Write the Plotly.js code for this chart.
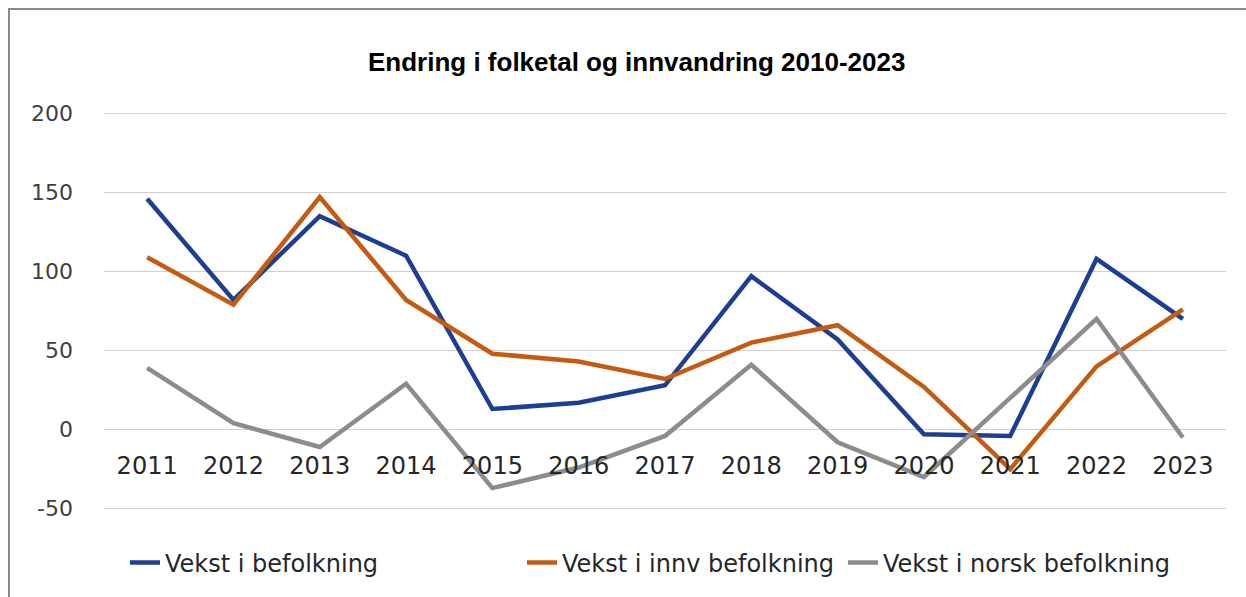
<!DOCTYPE html>
<html>
<head>
<meta charset="utf-8">
<script src="https://cdn.plot.ly/plotly-3.0.1.min.js"></script>
<style>
  html, body { margin: 0; padding: 0; background: #fff; }
  #wrap { position: relative; width: 1246px; height: 597px; }
  #chart { width: 1246px; height: 597px; }
  #frame { position: absolute; left: 8px; top: 8px; right: -2px; bottom: -2px;
           border-left: 2px solid #8a8a8a; border-top: 2px solid #8a8a8a; pointer-events: none; }
</style>
</head>
<body>
<div id="wrap">
  <div id="chart"></div>
  <div id="frame"></div>
</div>
<script>
const years = ['2011','2012','2013','2014','2015','2016','2017','2018','2019','2020','2021','2022','2023'];
const vekstBefolkning = [146, 82, 135, 110, 13, 17, 28, 97, 57, -3, -4, 108, 70];
const vekstInnv       = [109, 79, 147, 82, 48, 43, 32, 55, 66, 27, -25, 40, 76];
const vekstNorsk      = [39, 4, -11, 29, -37, -24, -4, 41, -8, -30, 20, 70, -5];
const seriesNames = ['Vekst i befolkning', 'Vekst i innv befolkning', 'Vekst i norsk befolkning'];
const titleText = 'Endring i folketal og innvandring 2010-2023';
const yTickVals = [-50, 0, 50, 100, 150, 200];
const yTickText = ['-50', '0', '50', '100', '150', '200'];

const colors = ['#1c3f94', '#c55a11', '#8c8c8c'];
const data = [vekstBefolkning, vekstInnv, vekstNorsk].map((vals, i) => ({
  type: 'scatter', mode: 'lines', x: years, y: vals, name: seriesNames[i],
  line: { color: colors[i], width: 4.5 },
  legend: i === 0 ? 'legend' : 'legend' + (i + 1),
  hoverinfo: 'skip'
}));

const legFont = { family: 'DejaVu Sans, sans-serif', size: 24, color: '#262626' };
const legBase = { orientation: 'h', yanchor: 'middle', y: -0.13, xanchor: 'left',
  font: legFont, bgcolor: 'rgba(0,0,0,0)', borderwidth: 0, itemwidth: 30 };

const yMin = -51.5, yMax = 201.5;

const layout = {
  width: 1246, height: 597,
  margin: { l: 104, r: 20, t: 111, b: 80 },
  paper_bgcolor: '#fff', plot_bgcolor: '#fff',
  title: { text: '<b>' + titleText + '</b>', xref: 'container', x: 0.511, xanchor: 'center',
           yref: 'container', y: 1 - 62/597, yanchor: 'middle',
           font: { family: 'Liberation Sans, Arial, sans-serif', size: 26, color: '#000' } },
  xaxis: { type: 'category', range: [-0.5, 12.5], anchor: 'free', position: (0 - yMin) / (yMax - yMin),
           showgrid: false, showline: false, ticks: '', ticklabelstandoff: 19,
           tickfont: { family: 'DejaVu Sans, sans-serif', size: 24, color: '#262626' } },
  yaxis: { range: [yMin, yMax], tickmode: 'array', tickvals: yTickVals, ticktext: yTickText,
           showgrid: true, gridcolor: '#d0d0d0', gridwidth: 1.5,
           zeroline: true, zerolinecolor: '#d0d0d0', zerolinewidth: 1.5, showline: false, ticks: '',
           ticklabelstandoff: 30,
           tickfont: { family: 'DejaVu Sans, sans-serif', size: 22, color: '#404040' } },
  showlegend: true,
  legend:  Object.assign({}, legBase, { x: (125 - 104) / 1122 }),
  legend2: Object.assign({}, legBase, { x: (522 - 104) / 1122 }),
  legend3: Object.assign({}, legBase, { x: (843 - 104) / 1122 })
};

Plotly.newPlot('chart', data, layout, { staticPlot: true, displayModeBar: false });
</script>
</body>
</html>
